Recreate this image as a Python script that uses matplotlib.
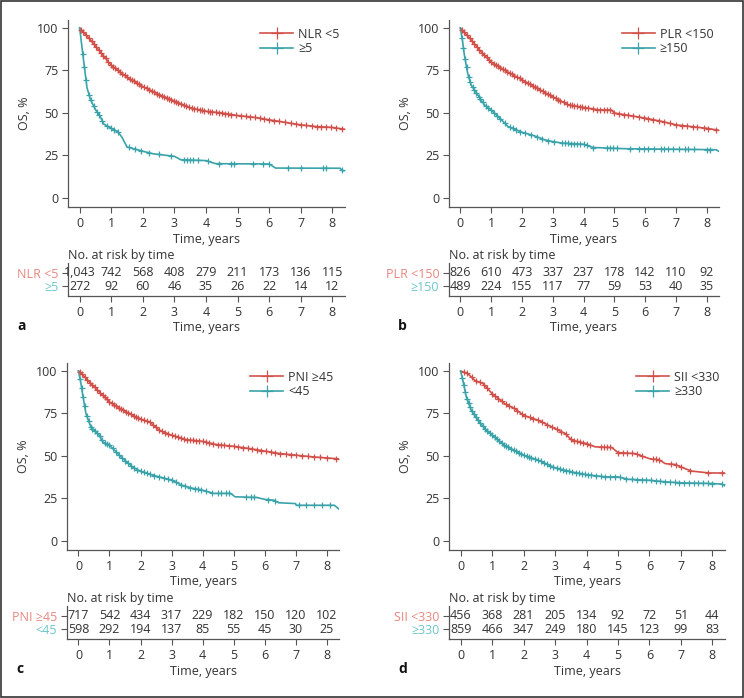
"""
Kaplan-Meier OS curves for four inflammation markers (NLR, PLR, PNI, SII)
with number-at-risk tables under each panel.
"""

import numpy as np
import matplotlib.pyplot as plt
from matplotlib.patches import Rectangle

plt.rcParams["font.family"] = ["Open Sans", "DejaVu Sans"]
plt.rcParams["font.size"] = 9

RED = "#d2504a"
TEAL = "#3aa3a9"
RED_LIGHT = "#e8867f"
TEAL_LIGHT = "#6cc6cc"
INK = "#333333"
FS = 9

YEARS = [0, 1, 2, 3, 4, 5, 6, 7, 8]

# ---- a: NLR ----
NLR_LOW_T = [0, 0.1, 0.34, 0.65, 1.0, 1.5, 2.0, 2.5, 3.0, 3.5, 4.0, 4.5, 5.0, 5.5, 6.0, 6.5, 7.0, 7.5, 8.0, 8.37]
NLR_LOW_S = [100, 98, 93, 86, 78, 71, 65.5, 61, 57, 53, 51, 50, 48.5, 47.5, 46, 44.5, 43, 42, 41.5, 40.5]
NLR_LOW_C = [0.05, 0.12, 0.2, 0.28, 0.38, 0.45, 0.52, 0.6, 0.68, 0.75, 0.82, 0.9, 0.98, 1.05, 1.12, 1.2,
             1.28, 1.35, 1.42, 1.5, 1.58, 1.65, 1.72, 1.8, 1.88, 1.95, 2.05, 2.12, 2.2, 2.28, 2.35, 2.45,
             2.52, 2.6, 2.68, 2.75, 2.82, 2.9, 2.98, 3.05, 3.12, 3.2, 3.3, 3.38, 3.45, 3.55, 3.62, 3.7,
             3.8, 3.88, 3.95, 4.05, 4.12, 4.2, 4.3, 4.4, 4.5, 4.6, 4.7, 4.8, 4.95, 5.1, 5.25, 5.4, 5.55,
             5.7, 5.85, 6.0, 6.15, 6.3, 6.5, 6.7, 6.85, 7.0, 7.15, 7.35, 7.5, 7.65, 7.8, 7.95, 8.1, 8.3]
NLR_HIGH_T = [0, 0.07, 0.13, 0.23, 0.34, 0.5, 0.65, 0.76, 1.0, 1.2, 1.33, 1.5, 2.0, 2.33, 3.0, 3.2, 4.0,
              4.3, 6.0, 6.2, 8.25, 8.3, 8.37]
NLR_HIGH_S = [100, 89, 80, 65, 58, 52, 48, 43.5, 41, 39, 36, 30, 27.5, 26, 24.5, 22.5, 22, 20.2, 20, 17.6,
              17.5, 16.2, 16]
NLR_HIGH_C = [0.1, 0.15, 0.2, 0.3, 0.35, 0.45, 0.55, 0.62, 0.72, 0.85, 1.0, 1.1, 1.2, 1.55, 1.75, 1.95,
              2.2, 2.5, 2.9, 3.3, 3.4, 3.5, 3.6, 3.75, 4.05, 4.4, 4.8, 4.9, 5.5, 5.8, 6.0, 6.6, 7.0,
              7.7, 7.8, 8.3]
NLR_RISK_LOW = ["1,043", "742", "568", "408", "279", "211", "173", "136", "115"]
NLR_RISK_HIGH = ["272", "92", "60", "46", "35", "26", "22", "14", "12"]

# ---- b: PLR ----
PLR_LOW_T = [0, 0.1, 0.35, 0.67, 1.0, 1.43, 2.0, 2.5, 3.0, 3.5, 4.0, 4.5, 4.9, 5.0, 5.5, 6.0, 6.55, 7.0,
             7.5, 8.0, 8.4]
PLR_LOW_S = [100, 98, 93, 86, 80, 75.2, 69.5, 64.5, 59.5, 54.8, 53.3, 51.8, 51.8, 50, 48.5, 47, 45, 43,
             42, 41, 39.8]
PLR_LOW_C = [0.05, 0.12, 0.2, 0.3, 0.38, 0.45, 0.55, 0.62, 0.7, 0.78, 0.85, 0.92, 1.0, 1.08, 1.15, 1.22,
             1.3, 1.38, 1.45, 1.52, 1.6, 1.68, 1.75, 1.85, 1.92, 2.0, 2.1, 2.18, 2.25, 2.35, 2.42, 2.5,
             2.6, 2.68, 2.75, 2.85, 2.92, 3.0, 3.1, 3.18, 3.25, 3.35, 3.45, 3.55, 3.62, 3.7, 3.8, 3.88,
             3.95, 4.05, 4.15, 4.3, 4.45, 4.55, 4.65, 4.75, 4.85, 5.0, 5.15, 5.3, 5.45, 5.6, 5.8, 5.95,
             6.1, 6.25, 6.45, 6.6, 6.8, 7.0, 7.2, 7.35, 7.55, 7.7, 7.9, 8.05, 8.3]
PLR_HIGH_T = [0, 0.08, 0.13, 0.24, 0.35, 0.57, 0.78, 1.0, 1.22, 1.55, 2.0, 2.4, 2.74, 3.0, 3.3, 4.0, 4.3,
              5.35, 8.3, 8.4]
PLR_HIGH_S = [100, 91, 84, 73, 66.5, 60.5, 54.8, 51.8, 48, 42, 38.7, 36.6, 34.2, 33.2, 32.3, 31.6, 29.7,
              29, 28.4, 27.4]
PLR_HIGH_C = [0.05, 0.1, 0.15, 0.2, 0.27, 0.32, 0.4, 0.45, 0.52, 0.6, 0.65, 0.72, 0.82, 0.9, 1.0, 1.1,
              1.2, 1.3, 1.45, 1.6, 1.7, 1.8, 1.95, 2.1, 2.3, 2.5, 2.65, 2.85, 3.05, 3.3, 3.4, 3.5, 3.6,
              3.7, 3.8, 3.9, 4.0, 4.1, 4.3, 4.75, 4.85, 4.95, 5.1, 5.5, 5.8, 5.95, 6.1, 6.3, 6.5, 6.6,
              6.75, 6.9, 7.1, 7.3, 7.4, 7.6, 8.0, 8.1]
PLR_RISK_LOW = ["826", "610", "473", "337", "237", "178", "142", "110", "92"]
PLR_RISK_HIGH = ["489", "224", "155", "117", "77", "59", "53", "40", "35"]

# ---- c: PNI ----
PNI_HIGH_T = [0, 0.1, 0.35, 0.67, 1.0, 1.43, 2.0, 2.3, 2.6, 3.0, 3.48, 4.0, 4.45, 5.0, 5.54, 6.0, 6.5,
              7.0, 7.6, 8.4]
PNI_HIGH_S = [100, 98.5, 93.5, 87.7, 81.8, 77, 71.6, 70, 65.2, 62.2, 59.6, 58.6, 56.7, 55.7, 54.3, 52.9,
              51.4, 50.5, 49.4, 48.3]
PNI_HIGH_C = [0.05, 0.12, 0.2, 0.28, 0.38, 0.45, 0.52, 0.6, 0.7, 0.78, 0.85, 0.92, 1.0, 1.08, 1.15, 1.22,
              1.3, 1.38, 1.45, 1.52, 1.6, 1.7, 1.78, 1.85, 1.92, 2.0, 2.1, 2.2, 2.3, 2.4, 2.5, 2.6, 2.7,
              2.8, 2.9, 3.0, 3.1, 3.2, 3.3, 3.4, 3.5, 3.6, 3.7, 3.8, 3.9, 4.0, 4.1, 4.2, 4.35, 4.5, 4.6,
              4.7, 4.85, 5.0, 5.15, 5.3, 5.45, 5.6, 5.75, 5.9, 6.05, 6.2, 6.35, 6.5, 6.7, 6.85, 7.0, 7.2,
              7.4, 7.6, 7.8, 8.0, 8.3]
PNI_LOW_T = [0, 0.08, 0.13, 0.24, 0.4, 0.67, 0.78, 1.0, 1.43, 1.75, 2.0, 2.4, 3.0, 3.32, 3.6, 4.0, 4.35,
             4.9, 5.05, 5.75, 6.0, 6.3, 6.45, 7.0, 7.02, 8.25, 8.4]
PNI_LOW_S = [100, 92.6, 86.7, 75, 67, 62.2, 58.3, 56.3, 48.4, 43.5, 41, 38.7, 35.8, 32.9, 31.3, 29.9, 28,
             28, 26, 25.6, 24.5, 24, 22.5, 22, 21, 21, 18.8]
PNI_LOW_C = [0.05, 0.1, 0.15, 0.2, 0.27, 0.33, 0.4, 0.45, 0.52, 0.6, 0.68, 0.75, 0.85, 0.92, 1.0, 1.1,
             1.2, 1.3, 1.4, 1.5, 1.6, 1.7, 1.8, 1.9, 2.0, 2.1, 2.2, 2.3, 2.45, 2.6, 2.75, 2.9, 3.0, 3.15,
             3.3, 3.45, 3.6, 3.75, 3.85, 3.95, 4.1, 4.3, 4.5, 4.6, 4.75, 4.85, 5.4, 5.55, 5.65, 6.1,
             6.35, 7.1, 7.35, 7.6, 7.85, 8.1]
PNI_RISK_HIGH = ["717", "542", "434", "317", "229", "182", "150", "120", "102"]
PNI_RISK_LOW = ["598", "292", "194", "137", "85", "55", "45", "30", "25"]

# ---- d: SII ----
SII_LOW_T = [0, 0.23, 0.45, 0.71, 1.0, 1.4, 1.72, 2.0, 2.47, 3.0, 3.32, 3.53, 4.0, 4.27, 4.8, 5.0, 5.55,
             6.0, 6.3, 6.5, 6.82, 7.14, 7.35, 7.9, 8.4]
SII_LOW_S = [100, 98.4, 94.5, 92.6, 86.7, 80.8, 77.8, 73.9, 71, 66.1, 63.2, 59.3, 57.3, 55.4, 55, 52,
             51.4, 48.4, 47.8, 45.5, 45, 42.5, 41.1, 40, 40]
SII_LOW_C = [0.1, 0.2, 0.35, 0.5, 0.6, 0.75, 0.85, 1.0, 1.1, 1.2, 1.3, 1.45, 1.55, 1.7, 1.8, 1.95, 2.05,
             2.2, 2.3, 2.45, 2.6, 2.75, 2.9, 3.05, 3.2, 3.35, 3.5, 3.6, 3.7, 3.8, 3.9, 4.0, 4.1, 4.45,
             4.55, 4.65, 4.75, 5.0, 5.15, 5.3, 5.45, 5.6, 5.75, 6.1, 6.2, 6.3, 6.7, 6.85, 7.0, 7.3,
             7.85, 8.3]
SII_HIGH_T = [0, 0.07, 0.18, 0.34, 0.55, 0.77, 1.0, 1.4, 2.0, 2.47, 3.0, 3.53, 4.0, 4.6, 5.0, 5.33, 6.0,
              6.5, 7.0, 8.0, 8.3, 8.4]
SII_HIGH_S = [100, 94.5, 84.7, 76.8, 71, 66.1, 62.2, 56.3, 50.4, 47.5, 43, 40.6, 39, 37.7, 37.7, 36.3,
              35.7, 34.8, 34.2, 33.8, 33.5, 32.4]
SII_HIGH_C = [0.05, 0.1, 0.15, 0.2, 0.25, 0.3, 0.35, 0.42, 0.48, 0.55, 0.62, 0.7, 0.78, 0.85, 0.92, 1.0,
              1.08, 1.15, 1.22, 1.3, 1.38, 1.45, 1.52, 1.6, 1.68, 1.75, 1.85, 1.92, 2.0, 2.1, 2.18, 2.25,
              2.35, 2.45, 2.55, 2.65, 2.75, 2.85, 2.95, 3.05, 3.15, 3.25, 3.35, 3.45, 3.55, 3.65, 3.75,
              3.85, 3.95, 4.05, 4.15, 4.3, 4.45, 4.6, 4.75, 4.9, 5.05, 5.25, 5.45, 5.6, 5.75, 5.9, 6.05,
              6.2, 6.35, 6.5, 6.65, 6.8, 6.95, 7.1, 7.25, 7.4, 7.55, 7.7, 7.85, 8.0, 8.3]
SII_RISK_LOW = ["456", "368", "281", "205", "134", "92", "72", "51", "44"]
SII_RISK_HIGH = ["859", "466", "347", "249", "180", "145", "123", "99", "83"]


def km(ax, t, s, cens, color, label):
    ax.plot(t, s, color=color, lw=1.2, zorder=3)
    cy = np.interp(cens, t, s)
    ax.plot(cens, cy, ls="none", marker="+", ms=5, mew=0.9, color=color, zorder=4)
    # legend proxy: line with a + in the middle
    ax.plot([], [], color=color, lw=1.2, marker="+", ms=9, mew=0.9, label=label)


def panel(px, py, w, letter, lbl_a, lbl_b, a, b, risk_a, risk_b):
    W, H = 744, 698
    ax = fig.add_axes([px / W, 1 - (py + 187) / H, w / W, 187 / H])
    km(ax, a[0], a[1], a[2], RED, lbl_a)
    km(ax, b[0], b[1], b[2], TEAL, lbl_b)
    ax.set_xlim(-0.37, 8.4)
    ax.set_ylim(-5.3, 104.7)
    ax.set_yticks([0, 25, 50, 75, 100])
    ax.set_xticks(YEARS)
    ax.set_ylabel("OS, %", color=INK, labelpad=4, fontsize=FS)
    ax.set_xlabel("Time, years", color=INK, labelpad=2, fontsize=FS)
    ax.legend(loc="upper right", bbox_to_anchor=(1.02, 1.02), frameon=False, handlelength=2.6,
              handletextpad=0.4, labelspacing=0.15, fontsize=FS, numpoints=1, labelcolor=INK)

    rk = fig.add_axes([px / W, 1 - (py + 276) / H, w / W, 33 / H])
    rk.set_xlim(-0.37, 8.4)
    rk.set_ylim(0, 1)
    for i, x in enumerate(YEARS):
        rk.text(x, 0.70, risk_a[i], ha="center", va="center", color=INK, fontsize=FS)
        rk.text(x, 0.30, risk_b[i], ha="center", va="center", color=INK, fontsize=FS)
    rk.set_yticks([0.70, 0.30])
    rk.set_yticklabels([lbl_a, lbl_b])
    rk.set_xticks(YEARS)
    rk.set_xlabel("Time, years", color=INK, labelpad=2, fontsize=FS)
    rk.text(-0.37, 1.22, "No. at risk by time", ha="left", va="center", color=INK, fontsize=FS)
    fig.text((px - 51) / W, 1 - (py + 306) / H, letter, fontweight="bold", fontsize=10,
             ha="left", va="center", color="#111111")

    for a_ in (ax, rk):
        for side in ("top", "right"):
            a_.spines[side].set_visible(False)
        for side in ("left", "bottom"):
            a_.spines[side].set_color("#555555")
            a_.spines[side].set_linewidth(0.9)
        a_.tick_params(colors="#555555", labelcolor=INK, length=4, width=0.8, labelsize=FS, pad=3)
    for tl, c in zip(rk.get_yticklabels(), [RED_LIGHT, TEAL_LIGHT]):
        tl.set_color(c)


fig = plt.figure(figsize=(7.44, 6.98), dpi=100)

panel(68, 20, 277, "a", "NLR <5", "\u22655",
      (NLR_LOW_T, NLR_LOW_S, NLR_LOW_C), (NLR_HIGH_T, NLR_HIGH_S, NLR_HIGH_C),
      NLR_RISK_LOW, NLR_RISK_HIGH)
panel(449, 20, 270, "b", "PLR <150", "\u2265150",
      (PLR_LOW_T, PLR_LOW_S, PLR_LOW_C), (PLR_HIGH_T, PLR_HIGH_S, PLR_HIGH_C),
      PLR_RISK_LOW, PLR_RISK_HIGH)
panel(67, 363, 272, "c", "PNI \u226545", "<45",
      (PNI_HIGH_T, PNI_HIGH_S, PNI_HIGH_C), (PNI_LOW_T, PNI_LOW_S, PNI_LOW_C),
      PNI_RISK_HIGH, PNI_RISK_LOW)
panel(449, 363, 276, "d", "SII <330", "\u2265330",
      (SII_LOW_T, SII_LOW_S, SII_LOW_C), (SII_HIGH_T, SII_HIGH_S, SII_HIGH_C),
      SII_RISK_LOW, SII_RISK_HIGH)

# thin frame round the whole figure
fig.patches.append(Rectangle((0.001, 0.001), 0.998, 0.998, transform=fig.transFigure,
                             fill=False, edgecolor="#333333", lw=1.2))

fig.savefig("out.png", dpi=100)
